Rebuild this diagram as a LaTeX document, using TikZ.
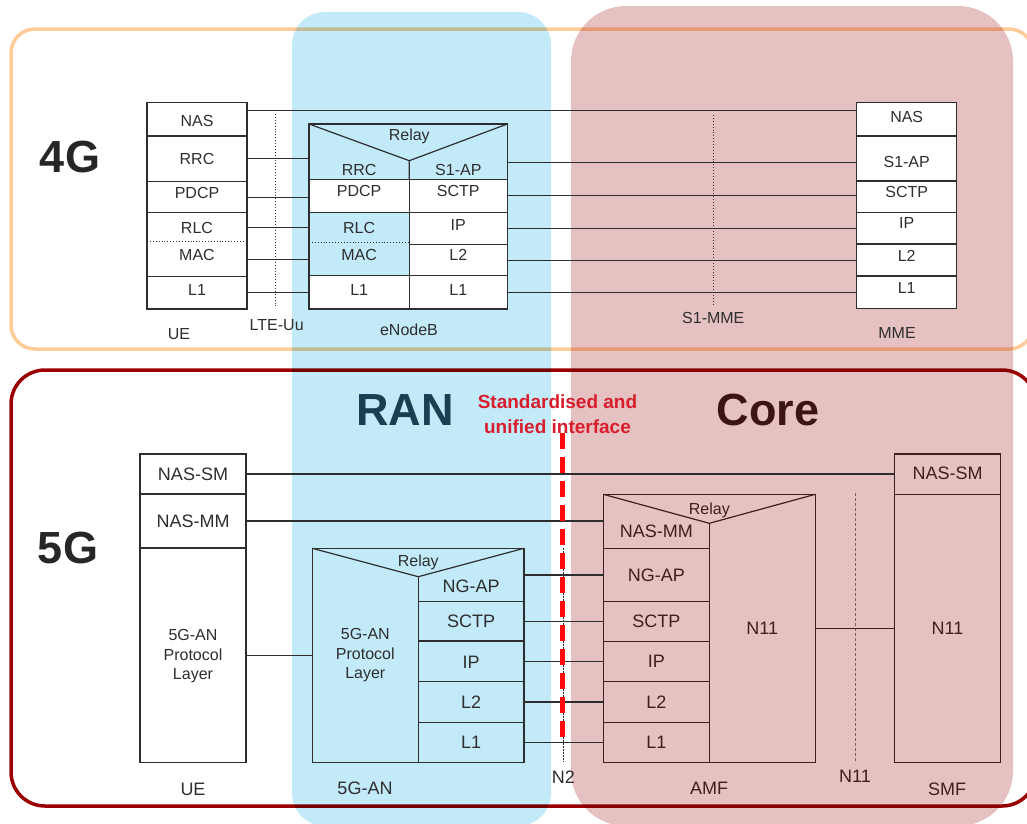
\documentclass[tikz,border=0pt]{standalone}
\usepackage{fontspec}
\setmainfont{Liberation Sans}
\usetikzlibrary{fit,calc}
\definecolor{ranblue}{HTML}{C2EAF9}
\definecolor{corepink}{HTML}{E5C1C2}
\definecolor{frameorange}{HTML}{FFCC99}
\definecolor{framered}{HTML}{9B0000}
\definecolor{ink}{HTML}{2E2E2E}
\definecolor{coreink}{HTML}{3F1E1E}
\definecolor{ranink}{HTML}{1B3F50}
\definecolor{corebig}{HTML}{3C1414}
\definecolor{stdred}{HTML}{D81E2C}
\definecolor{dashred}{HTML}{FF0A0A}
\newcommand\mycell[9]{%
  \node[#6, fit={(#2,#3) (#4,#5)}] (#1) {};%
  \node[#7] (#1t) at ($(#1.center)+(0,#9)$) {#8};}
\begin{document}
\begin{tikzpicture}[x=1pt,y=-1pt,
  frameA/.style={draw=frameorange, line width=3.5pt, rounded corners=24},
  frameB/.style={draw=framered, line width=3.5pt, rounded corners=34},
  cellw/.style={draw=ink, line width=1.2pt, fill=white, inner sep=0pt, outer sep=0pt},
  cello/.style={draw=ink, line width=1.2pt, inner sep=0pt, outer sep=0pt},
  cellc/.style={draw=coreink, line width=1.2pt, inner sep=0pt, outer sep=0pt},
  celln/.style={inner sep=0pt, outer sep=0pt},
  txtf/.style={text=ink, font=\fontsize{16}{19.5}\selectfont, inner sep=0pt, align=center},
  txtg/.style={text=ink, font=\fontsize{18}{21}\selectfont, inner sep=0pt, align=center},
  txtc/.style={text=coreink, font=\fontsize{18}{21}\selectfont, inner sep=0pt, align=center},
  txtcs/.style={text=coreink, font=\fontsize{16}{19.5}\selectfont, inner sep=0pt, align=center},
  conn/.style={draw=ink, line width=1.1pt},
  connc/.style={draw=coreink, line width=1.1pt},
  vline/.style={draw=ink, line width=1.2pt},
  vlinec/.style={draw=coreink, line width=1.2pt},
  dotsep/.style={draw=ink, line width=0.9pt, dotted},
  ifdash/.style={draw=ink, line width=0.8pt, dash pattern=on 1.5pt off 1.5pt},
  ifdashc/.style={draw=coreink!70, line width=1pt, dash pattern=on 3pt off 2pt},
  bigtxt/.style={font=\fontsize{45}{50}\selectfont\bfseries, inner sep=0pt},
  stdtxt/.style={text=stdred, font=\fontsize{19}{25}\selectfont\bfseries, inner sep=0pt, align=center},
  reddash/.style={draw=dashred, line width=5pt, dash pattern=on 16pt off 8pt}
]
\useasboundingbox (0,0) rectangle (1027,823);
\clip (0,0) rectangle (1027,823);

% frames
\draw[frameA] (11,29) rectangle (1033,349);
\draw[frameB] (11,370) rectangle (1036,806);

% overlays
\begin{scope}[blend mode=multiply]
  \fill[ranblue, rounded corners=33] (292,12) rectangle (551,826);
  \fill[corepink, rounded corners=55] (571,6) rectangle (1013,826);
\end{scope}

% big labels
\node[bigtxt, text=black!85] (lbl4g) at (70,157) {4G};
\node[bigtxt, text=black!85] (lbl5g) at (68,548) {5G};
\node[bigtxt, text=ranink] (lblran) at (405,410) {RAN};
\node[bigtxt, text=corebig] (lblcore) at (768,410) {Core};
\node[stdtxt] (lblstd) at (557.5,414) {Standardised and\\unified interface};

% ---------------- 4G UE ----------------
\mycell{uenas}{147}{102.3}{247}{136}{cellw}{txtf}{NAS}{1.5}
\mycell{uerrc}{147}{136}{247}{181.7}{cellw}{txtf}{RRC}{0}
\mycell{uepdcp}{147}{181.7}{247}{212.7}{cellw}{txtf}{PDCP}{-4.5}
\node[cellw, fit={(147,212.7) (247,276.7)}] (uerlcmac) {};
\mycell{uerlc}{147}{212.7}{247}{241.7}{celln}{txtf}{RLC}{1}
\mycell{uemac}{147}{241.7}{247}{276.7}{celln}{txtf}{MAC}{-4}
\draw[dotsep] (uerlc.south west) -- (uerlc.south east);
\mycell{uel1}{147}{276.7}{247}{309}{cellw}{txtf}{L1}{-3}
\node[txtf] (ue4lbl) at (179,334) {UE};

% ---------------- eNodeB ----------------
\node[cello, fit={(309,124) (507.3,309)}] (enb) {};
\coordinate (enbapex) at (409.3,160.7);
\node[txtf] (enbrelay) at (409.3,136) {Relay};
\mycell{enbrrc}{309}{160}{409.3}{179.3}{celln}{txtf}{RRC}{0}
\mycell{enbs1ap}{409.3}{160}{507.3}{179.3}{celln}{txtf}{S1-AP}{0}
\mycell{enbpdcp}{309}{179.3}{409.3}{212.3}{cellw}{txtf}{PDCP}{-4.8}
\mycell{enbsctp}{409.3}{179.3}{507.3}{212.3}{cellw}{txtf}{SCTP}{-4.8}
\node[cello, fit={(309,212.3) (409.3,275.7)}] (enbrlcmac) {};
\mycell{enbrlc}{309}{212.3}{409.3}{242.7}{celln}{txtf}{RLC}{0}
\mycell{enbmac}{309}{242.7}{409.3}{275.7}{celln}{txtf}{MAC}{-4}
\draw[dotsep] (enbrlc.south west) -- (enbrlc.south east);
\mycell{enbip}{409.3}{212.3}{507.3}{244.7}{cellw}{txtf}{IP}{-4}
\mycell{enbltwo}{409.3}{244.7}{507.3}{275.7}{cellw}{txtf}{L2}{-5}
\mycell{enblonea}{309}{275.7}{409.3}{309}{cellw}{txtf}{L1}{-2.5}
\mycell{enbloneb}{409.3}{275.7}{507.3}{309}{cellw}{txtf}{L1}{-2.5}
\draw[vline] (enb.north west) -- (enbapex) -- (enb.north east);
\draw[vline] (enbapex) -- (enbpdcp.north east);
\node[txtf] (enblbl) at (409,330) {eNodeB};

% ---------------- MME ----------------
\mycell{mmenas}{856.7}{102.3}{956.7}{136}{cellw}{txtf}{NAS}{-2.5}
\mycell{mmes1ap}{856.7}{136}{956.7}{181}{cellw}{txtf}{S1-AP}{3}
\mycell{mmesctp}{856.7}{181}{956.7}{212.3}{cellw}{txtf}{SCTP}{-5}
\mycell{mmeip}{856.7}{212.3}{956.7}{244}{cellw}{txtf}{IP}{-5.5}
\mycell{mmeltwo}{856.7}{244}{956.7}{276}{cellw}{txtf}{L2}{-4}
\mycell{mmelone}{856.7}{276}{956.7}{308.3}{cellw}{txtf}{L1}{-4}
\node[txtf] (mmelbl) at (897,333.3) {MME};

% 4G interface markers
\coordinate (ltetop) at (275.3,114);
\coordinate (ltebot) at (275.3,306.7);
\draw[dotsep] (ltetop) -- (ltebot);
\node[txtf] (ltelbl) at (276.7,325) {LTE-Uu};
\coordinate (s1top) at (713.3,115);
\coordinate (s1bot) at (713.3,306);
\draw[dotsep] (s1top) -- (s1bot);
\node[txtf] (s1lbl) at (713.3,318.3) {S1-MME};

% 4G connectors
\coordinate (nasL) at ($(uenas.east)+(0,-8.5)$);
\draw[conn] (nasL) -- (nasL -| mmenas.west);
\draw[conn] (uerrc.east) -- (uerrc.east -| enb.west);
\draw[conn] (uepdcp.east) -- (uepdcp.east -| enb.west);
\draw[conn] (uerlc.east) -- (uerlc.east -| enb.west);
\draw[conn] (uemac.east) -- (uemac.east -| enb.west);
\draw[conn] (uel1.east) -- (uel1.east -| enb.west);
\coordinate (s1apR) at ($(mmes1ap.west)+(0,4)$);
\draw[conn] (s1apR) -- (s1apR -| enb.east);
\draw[conn] (enbsctp.east) -- (enbsctp.east -| mmesctp.west);
\draw[conn] (enbip.east) -- (enbip.east -| mmeip.west);
\draw[conn] (enbltwo.east) -- (enbltwo.east -| mmeltwo.west);
\draw[conn] (enbloneb.east) -- (enbloneb.east -| mmelone.west);

% ---------------- 5G UE ----------------
\mycell{uesm}{140}{454}{246}{494}{cellw}{txtg}{NAS-SM}{0}
\mycell{uemm}{140}{494}{246}{548}{cellw}{txtg}{NAS-MM}{0}
\mycell{uean}{140}{548}{246}{762.7}{cellw}{txtf}{5G-AN\\Protocol\\Layer}{1}
\node[txtg] (ue5lbl) at (193,789) {UE};

% ---------------- 5G-AN ----------------
\node[cello, fit={(312.3,548.3) (524,762.3)}] (gan) {};
\coordinate (ganapex) at (418.3,576.7);
\node[txtf] (ganrelay) at (418.3,562.7) {Relay};
\mycell{ganap}{418.3}{548.3}{524}{601.7}{celln}{txtg}{NG-AP}{11.7}
\mycell{gansctp}{418.3}{601.7}{524}{641}{cello}{txtg}{SCTP}{0}
\mycell{ganip}{418.3}{641}{524}{681.7}{cello}{txtg}{IP}{1}
\mycell{ganltwo}{418.3}{681.7}{524}{722.3}{cello}{txtg}{L2}{0}
\mycell{ganlone}{418.3}{722.3}{524}{762.3}{cello}{txtg}{L1}{0}
\mycell{ganleft}{312.3}{548.3}{418.3}{762.3}{celln}{txtf}{5G-AN\\Protocol\\Layer}{0}
\draw[vline] (gan.north west) -- (ganapex) -- (gan.north east);
\draw[vline] (ganapex) -- (gansctp.north west);
\node[txtg] (ganlbl) at (365,788.3) {5G-AN};

% ---------------- AMF ----------------
\node[cellc, fit={(603.3,494.3) (815.3,762.3)}] (amf) {};
\coordinate (amfapex) at (709.3,523.3);
\node[txtcs] (amfrelay) at (709.3,510) {Relay};
\mycell{amfmm}{603.3}{494.3}{709.3}{548.3}{celln}{txtc}{NAS-MM}{10.4}
\mycell{amfap}{603.3}{548.3}{709.3}{601.7}{cellc}{txtc}{NG-AP}{0}
\mycell{amfsctp}{603.3}{601.7}{709.3}{641.7}{cellc}{txtc}{SCTP}{0}
\mycell{amfip}{603.3}{641.7}{709.3}{681.7}{cellc}{txtc}{IP}{0}
\mycell{amfltwo}{603.3}{681.7}{709.3}{722.3}{cellc}{txtc}{L2}{0}
\mycell{amflone}{603.3}{722.3}{709.3}{762.3}{cellc}{txtc}{L1}{0}
\mycell{amfn}{709.3}{494.3}{815.3}{762.3}{celln}{txtc}{N11}{0}
\draw[vlinec] (amf.north west) -- (amfapex) -- (amf.north east);
\draw[vlinec] (amfapex) -- (amfap.north east);
\node[txtc] (amflbl) at (709,788.3) {AMF};

% ---------------- SMF ----------------
\mycell{smfsm}{894.3}{454}{1000.7}{494.3}{cellc}{txtc}{NAS-SM}{-0.8}
\mycell{smfn}{894.3}{494.3}{1000.7}{762.3}{cellc}{txtc}{N11}{0}
\node[txtc] (smflbl) at (947,789) {SMF};

% 5G interface markers
\coordinate (ntwotop) at (563.3,548);
\coordinate (ntwobot) at (563.3,762);
\draw[ifdash] (ntwotop) -- (ntwobot);
\node[txtg] (ntwolbl) at (563.3,776.7) {N2};
\coordinate (nelevtop) at (855,493);
\coordinate (nelevbot) at (855,763);
\draw[ifdashc] (nelevtop) -- (nelevbot);
\node[txtc] (nelevlbl) at (855,776.7) {N11};

% 5G connectors
\draw[conn] (uesm.east) -- (uesm.east -| smfsm.west);
\draw[conn] (uemm.east) -- (uemm.east -| amf.west);
\draw[conn] (uean.east) -- (uean.east -| gan.west);
\draw[conn] (ganap.east) -- (ganap.east -| amf.west);
\draw[conn] (gansctp.east) -- (gansctp.east -| amf.west);
\draw[conn] (ganip.east) -- (ganip.east -| amf.west);
\draw[conn] (ganltwo.east) -- (ganltwo.east -| amf.west);
\draw[conn] (ganlone.east) -- (ganlone.east -| amf.west);
\draw[connc] (amfn.east) -- (amfn.east -| smfn.west);

% standardised interface
\coordinate (redtop) at (562.7,433);
\coordinate (redbot) at (562.7,740);
\draw[reddash] (redtop) -- (redbot);
\end{tikzpicture}
\end{document}
